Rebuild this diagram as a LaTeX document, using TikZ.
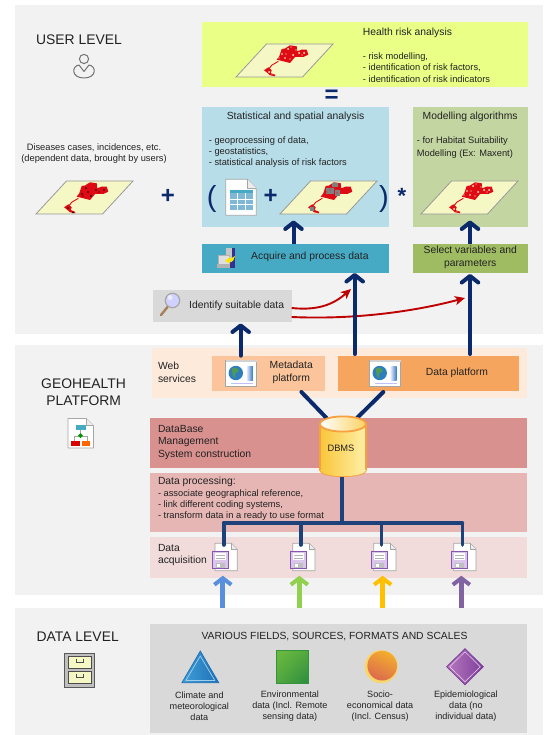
\documentclass[tikz,border=0pt]{standalone}
\usepackage{fontspec}
\setmainfont{Liberation Sans}
\usetikzlibrary{arrows.meta,shapes.geometric,calc,shadings}
\definecolor{navy}{HTML}{0A2A6B}
\definecolor{navyb}{HTML}{1C4279}
\definecolor{panel}{HTML}{F2F2F2}
\definecolor{ink}{HTML}{222222}
\definecolor{iconline}{HTML}{A6A6A6}
\definecolor{cyellow}{HTML}{E9FF85}
\definecolor{cblue}{HTML}{B7DDE8}
\definecolor{cgreen}{HTML}{C3D5A0}
\definecolor{cacq}{HTML}{46AAC4}
\definecolor{csel}{HTML}{A0BC62}
\definecolor{cgrey}{HTML}{D9D9D9}
\definecolor{cweb}{HTML}{FDEADA}
\definecolor{cmeta}{HTML}{FBC49A}
\definecolor{cdata}{HTML}{F6A55F}
\definecolor{cdb}{HTML}{D8918E}
\definecolor{cproc}{HTML}{E5B6B3}
\definecolor{cacqu}{HTML}{F1DCDB}
\definecolor{mapy}{HTML}{F5F7C4}
\definecolor{floppy}{HTML}{8A55B0}
\definecolor{floppyl}{HTML}{D9C6EA}
\definecolor{mapred}{HTML}{E00A14}
\definecolor{globe}{HTML}{2E7DBE}
\definecolor{land}{HTML}{4F9A55}
\definecolor{ctab}{HTML}{7FB8D6}
\definecolor{aone}{HTML}{5A8FDC}
\definecolor{atwo}{HTML}{92D050}
\definecolor{athree}{HTML}{FFC000}
\definecolor{afour}{HTML}{8064A2}
\definecolor{triA}{HTML}{3F9FD8}
\definecolor{triB}{HTML}{1F6FB5}
\definecolor{sqA}{HTML}{6DBB3F}
\definecolor{sqB}{HTML}{2B8C3F}
\definecolor{cirA}{HTML}{F3AE2D}
\definecolor{cirB}{HTML}{DC6A4E}
\definecolor{cirC}{HTML}{F7D66A}
\definecolor{diaA}{HTML}{B678BE}
\definecolor{diaB}{HTML}{7F3F9B}
\definecolor{dbA}{HTML}{F9C63A}
\definecolor{dbB}{HTML}{FFF0A8}
\definecolor{dbL}{HTML}{F6A040}
\tikzset{
  x=1pt,y=-1pt,
  boxn/.style={inner sep=0,outer sep=0,anchor=north west,draw=none},
  lab/.style={inner sep=0,text=ink,font=\fontsize{10.35}{13}\selectfont,align=left},
  labc/.style={lab,align=center},
  listf/.style={lab,anchor=west,font=\fontsize{9.3}{11.4}\selectfont},
  title/.style={inner sep=0,text=ink,font=\fontsize{13.9}{17}\selectfont,align=center},
  small/.style={inner sep=0,text=ink,font=\fontsize{9.1}{11}\selectfont,align=center},
  sym/.style={inner sep=0,text=navy,font=\bfseries},
  navyarrow/.style={draw=navy,line width=4pt,line cap=round,-{Straight Barb[length=6.5pt,width=16.5pt,line width=4pt,round]}},
  navyline/.style={draw=navy,line width=4pt,line cap=round},
  busline/.style={draw=navyb,line width=3.6pt,line cap=round,line join=round},
  redarrow/.style={draw=red!75!black,line width=1.9pt,-{Stealth[length=10pt,width=9pt,inset=2.5pt]}},
  colarrow/.style={line width=4.8pt,-{Straight Barb[length=6.5pt,width=17pt,line width=4pt]}},
}
\newcommand\bx[6]{\node[boxn,fill=#6,minimum width={(#4-#2)*1pt},minimum height={(#5-#3)*1pt}] (#1) at (#2,#3) {};}
\newcommand\mapsheet[5]{%
  \begin{scope}[shift={(#2,#3)}]
    \node[inner sep=0] (#1) at (48,-16) {};
    \draw[fill=mapy,draw=gray!80,line width=.8pt] (0,0) -- (66.5,0) -- (97,-33) -- (30.5,-33) -- cycle;
    \fill[mapred] (43.3,-20.7) -- (45.7,-28) -- (49,-28.5) -- (54,-31.7) -- (60.7,-30.7) -- (61.3,-25.7) -- (66,-27.5) -- (70.7,-27.3) -- (72.3,-22.3) -- (67.3,-20) -- (59,-20) -- (54,-14) -- (47.3,-15.7) -- (40.7,-17.3) -- cycle;
    \draw[mapred,line width=.9pt] (42.3,-15.7) -- (35.7,-11.7) -- (32.3,-7.3);
    \fill[mapred] (28,-6.7) -- (32.3,-9.7) -- (35.7,-6.7) -- (34.7,-4) -- (39,-2.3) -- (39,-.7) -- (34,-1.7) -- (30.7,-4.7) -- cycle;
    #5{#4}
  \end{scope}}
\newcommand\speck[1]{\fill[#1] (46,-20) circle (.8) (52,-22) circle (.8) (60,-24) circle (.8) (68,-24) circle (.8) (55,-18) circle (.8) (32,-6) circle (.8) (50,-26) circle (.8) (63,-22) circle (.6) (47,-18) circle (.6) (37,-1.5) circle (.8);}
\newcommand\holes[1]{\fill[#1] (46,-23) circle (.9) (52,-28) circle (1) (57,-22) circle (1) (63,-24) circle (1) (68,-24) circle (1) (49,-19) circle (.8) (33,-5) circle (1) (36,-3) circle (.6) (54,-18) circle (.7) (60,-27) circle (.6) (43,-19) circle (.7) (66,-22) circle (.7) (50,-23) circle (.7) (55,-30) circle (.7);}
\newcommand\patches[1]{\fill[#1] (46,-26) rectangle (54,-20) (52,-31) rectangle (58,-27) (55,-24) rectangle (60,-18) (30,-7) rectangle (34,-3);\fill[mapred] (50,-24) circle (.7) (47,-22) circle (.7) (57,-21) circle (.7);}
\newcommand\docshape[5]{\draw[fill=white,draw=iconline,line width=.8pt,line join=round] (#1,#2) -- ({#1+#3-#5},#2) -- ({#1+#3},{#2+#5}) -- ({#1+#3},{#2+#4}) -- (#1,{#2+#4}) -- cycle;
  \draw[fill=gray!15,draw=iconline,line width=.5pt] ({#1+#3-#5},#2) -- ({#1+#3-#5},{#2+#5}) -- ({#1+#3},{#2+#5});}
\newcommand\browser[2]{\begin{scope}[shift={(#1,#2)}]
  \draw[fill=white,draw=gray!70,line width=.7pt] (0,0) rectangle (31,26);
  \fill[gray!35] (0,0) rectangle (31,2.4);
  \shade[left color=blue!10,right color=globe] (21,6) rectangle (27,20);
  \fill[globe] (10,13) circle (7.2);
  \fill[land] (6,8.5) -- (11,7.5) -- (13,11) -- (9,14) -- (10,18) -- (7,16) -- cycle;
  \draw[blue!25,line width=.7pt] (5,23) -- (27,23);
\end{scope}}
\newcommand\floppydoc[2]{\begin{scope}[shift={(#1,#2)}]
  \docshape{2.7}{0}{22.3}{27.4}{6}
  \draw[fill=floppyl,draw=floppy,line width=1pt] (0,8.4) rectangle (16.2,25);
  \fill[white] (2.5,9.5) rectangle (13.7,17);
  \draw[gray!60,line width=.5pt] (4,12) -- (12.5,12) (4,14.5) -- (12.5,14.5);
  \fill[gray!50] (3.5,19.5) rectangle (13,24.5);
  \fill[white] (5,20.5) rectangle (8,24);
\end{scope}}
\begin{document}
\begin{tikzpicture}
\useasboundingbox (0,0) rectangle (547,735);
\fill[white] (0,0) rectangle (547,735);
% level panels
\bx{userpanel}{15}{5}{543}{334}{panel}
\bx{geopanel}{15}{344.6}{543}{595}{panel}
\bx{datapanel}{15}{607.5}{543}{735}{panel}
% user level boxes
\bx{yellow}{201.7}{21.7}{527.7}{87.3}{cyellow}
\bx{blue}{201.7}{107}{389.3}{227}{cblue}
\bx{green}{412.7}{107}{527.7}{227}{cgreen}
\bx{acq}{201.7}{244}{389.3}{273}{cacq}
\bx{sel}{412.7}{244}{527.7}{273}{csel}
\bx{ident}{153}{290}{291.7}{322}{cgrey}
% geohealth boxes
\bx{web}{152}{348}{527}{397.5}{cweb}
\bx{meta}{211.5}{355.7}{324.7}{390.7}{cmeta}
\bx{dplat}{338}{355.7}{519}{390.7}{cdata}
\bx{dbband}{150}{418}{527}{467.7}{cdb}
\bx{proc}{150}{472.7}{527}{531.7}{cproc}
\bx{acqu}{150}{536.7}{527}{578}{cacqu}
\bx{fields}{150}{624}{527}{732.7}{cgrey}
% maps
\mapsheet{mapa}{36}{214}{black}{\speck}
\mapsheet{mapb}{236}{77}{mapy}{\holes}
\mapsheet{mapc}{280}{214}{gray}{\patches}
\mapsheet{mapd}{421}{214}{mapy}{\holes}
% texts: user level
\node[title] (tuser) at (79,40) {USER LEVEL};
\node[lab,labc,font=\fontsize{9.3}{11.2}\selectfont] (tdis) at (94,153.5) {Diseases cases, incidences, etc.\\(dependent data, brought by users)};
\node[lab,anchor=west] (thr) at (362.7,33) {Health risk analysis};
\node[listf] (thrl) at (362.7,67.5) {- risk modelling,\\- identification of risk factors,\\- identification of risk indicators};
\node[lab] (tsta) at (295.5,117) {Statistical and spatial analysis};
\node[listf,font=\fontsize{9.3}{11}\selectfont] (tstl) at (208.7,152) {- geoprocessing of data,\\- geostatistics,\\- statistical analysis of risk factors};
\node[lab] (tmod) at (470.2,117) {Modelling algorithms};
\node[listf,font=\fontsize{9.3}{13}\selectfont] (tmol) at (416.7,147.5) {- for Habitat Suitability\\Modelling (Ex: Maxent)};
\node[lab,anchor=west] (tacq) at (251,257) {Acquire and process data};
\node[lab,labc] (tsel) at (470.2,257.5) {Select variables and\\parameters};
\node[lab,anchor=west] (tid) at (189,305.5) {Identify suitable data};
% symbols
\node[sym,font=\bfseries\fontsize{24}{24}\selectfont] (plusa) at (168,196.5) {+};
\node[sym,font=\bfseries\fontsize{24}{24}\selectfont] (plusb) at (270.7,196) {+};
\node[sym,font=\fontsize{29}{29}\selectfont] (lpar) at (211.7,199) {(};
\node[sym,font=\fontsize{29}{29}\selectfont] (rpar) at (384,199) {)};
\node[sym,font=\bfseries\fontsize{22}{22}\selectfont] (star) at (402,196) {*};
\node[sym,font=\bfseries\fontsize{24}{24}\selectfont] (eq) at (331.7,96) {=};
% user icon
\draw[gray!90!black,line width=1pt] (84,59) circle (4.6);
\draw[gray!90!black,line width=1pt,line join=round] (79,65) .. controls (71.5,66) and (71,78) .. (84,78) .. controls (97,78) and (96.5,66) .. (89,65) -- (84,71.5) -- cycle;
% table document
\docshape{225.7}{179.3}{30.6}{36}{9}
\fill[cacq] (230,190) rectangle (252.7,193);
\fill[ctab] (230,193) rectangle (252.7,210);
\draw[white,line width=.7pt] (237.5,193) -- (237.5,210) (245,193) -- (245,210) (230,199) -- (252.7,199) (230,204.5) -- (252.7,204.5);
% acquire icon
\fill[blue!45!black!80] (226,248.3) rectangle (235,268);
\fill[gray!45] (226,248.3) rectangle (232,262);
\draw[gray!60,fill=gray!25] (218,255.5) rectangle (229,264);
\fill[gray!60] (216.7,264) rectangle (230,267.5);
\fill[yellow!90!orange] (225,261) -- (230,257) -- (230,259) -- (235,256) -- (233,261) -- (230,261) -- (230,263.5) -- cycle;
% magnifier
\draw[brown!60!gray,line width=2.4pt,line cap=round] (161,315) -- (167.5,307);
\draw[gray!70,fill=blue!18,line width=1.2pt] (172.5,300.5) circle (7.2);
\fill[white,opacity=.6] (170,297.5) circle (2.5);
% geohealth texts
\node[title] (tgeo) at (83.6,392.5) {GEOHEALTH\\PLATFORM};
\node[lab,anchor=west] (tweb) at (157.8,372.5) {Web\\services};
\node[lab,labc] (tmeta) at (291.3,372.5) {Metadata\\platform};
\node[lab] (tdat) at (457,372.5) {Data platform};
\node[lab,anchor=west,font=\fontsize{10.35}{12.5}\selectfont] (tdb) at (157.8,442.5) {DataBase\\Management\\System construction};
\node[lab,anchor=west] (tpro) at (157.8,482) {Data processing:};
\node[listf,font=\fontsize{9.3}{11}\selectfont] (tprl) at (157.8,505) {- associate geographical reference,\\- link different coding systems,\\- transform data in a ready to use format};
\node[lab,anchor=west,font=\fontsize{10.35}{12.5}\selectfont] (tdaq) at (157.8,555) {Data\\acquisition};
% flowchart doc icon
\docshape{68}{418.5}{25.4}{29.5}{7}
\fill[cacq] (75.5,425) rectangle (85.5,430);
\draw[gray!70,line width=.5pt] (80.5,430) -- (80.5,435) (74,441) -- (74,436) -- (87,436) -- (87,441);
\fill[green!60!black] (80.5,433) -- (83,435.5) -- (80.5,438) -- (78,435.5) -- cycle;
\fill[red!85!black] (71,441) rectangle (79.5,445.5);
\fill[orange!80!red] (81.5,441) rectangle (90,445.5);
% browser icons
\browser{225.8}{360}
\browser{369.7}{360}
% lower connectors
\coordinate (busl) at (223.7,523);
\coordinate (busr) at (462.4,523);
\coordinate (busm) at (341.7,523);
\coordinate (m1) at (301.4,392);
\coordinate (m2) at (326.5,418);
\coordinate (d1) at (383.3,392);
\coordinate (d2) at (357,418);
\draw[navyline] (m1) -- (m2);
\draw[navyline] (d1) -- (d2);
% dbms
\node[inner sep=0,outer sep=0,minimum width=46pt,minimum height=61pt] (dbms) at (343,446.2) {};
\draw[dbL,line width=1.8pt,fill=dbA] (343,470) ellipse (23 and 6.2);
\shade[left color=dbA,right color=dbB] (320,424) rectangle (366,470);
\shade[left color=dbA,right color=dbB] (320,470) arc (180:360:23 and -6.2) -- cycle;
\draw[dbL,line width=1.8pt] (320,424) -- (320,470) (366,424) -- (366,470);
\shade[left color=white,right color=dbA!80!white] (343,424) ellipse (23 and 7.6);
\draw[dbL,line width=1.8pt] (343,424) ellipse (23 and 7.6);
\node[lab,font=\fontsize{9.3}{10}\selectfont] (tdbms) at (341,448.7) {DBMS};
\draw[busline,line cap=butt] (dbms.south -| busm) -- (busm);
% floppy documents
\floppydoc{212.3}{543.3}
\floppydoc{290}{543.3}
\floppydoc{371}{543.3}
\floppydoc{451}{543.3}
\draw[busline] (busl) -- (busr);
\coordinate (f1) at (223.7,545);
\coordinate (f2) at (300.7,545);
\coordinate (f3) at (381.5,545);
\coordinate (f4) at (462.4,545);
\draw[busline] (f1) -- (busl);
\draw[busline] (f2) -- (f2 |- busl);
\draw[busline] (f3) -- (f3 |- busl);
\draw[busline] (f4) -- (busr);
% colored arrows
\coordinate (u1) at (222.8,575.7);
\coordinate (u2) at (299.3,575.7);
\coordinate (u3) at (382.6,575.7);
\coordinate (u4) at (461.3,575.7);
\draw[colarrow,draw=aone] (datapanel.north -| u1) -- (u1);
\draw[colarrow,draw=atwo] (datapanel.north -| u2) -- (u2);
\draw[colarrow,draw=athree] (datapanel.north -| u3) -- (u3);
\draw[colarrow,draw=afour] (datapanel.north -| u4) -- (u4);
% upper connectors
\coordinate (a1) at (293.5,220.5);
\coordinate (a2) at (470,220.5);
\coordinate (a3) at (354.7,273);
\coordinate (a4) at (470,274);
\coordinate (a5) at (240.7,323.5);
\coordinate (r1) at (351,289);
\coordinate (r2) at (465,298);
\draw[redarrow] ([yshift=-2pt]ident.east) .. controls (320,311) and (335,303) .. (r1);
\draw[redarrow] ([yshift=-11pt]ident.east) .. controls (360,320) and (420,310) .. (r2);
\draw[navyarrow,line cap=butt] (acq.north -| a1) -- (a1);
\draw[navyarrow,line cap=butt] (sel.north -| a2) -- (a2);
\draw[navyarrow] ([yshift=1.7pt]dplat.north -| a3) -- (a3);
\draw[navyarrow] ([yshift=1.7pt]dplat.north -| a4) -- (a4);
\draw[navyarrow] (meta.north -| a5) -- (a5);
% data level
\node[title] (tdata) at (77.7,636.7) {DATA LEVEL};
\draw[gray!70!black,fill=gray!50,line width=.8pt] (64.8,653) rectangle (94.8,687);
\draw[black!70,fill=mapy,line width=.7pt] (68.3,656) rectangle (91.3,668.5);
\draw[black!70,fill=mapy,line width=.7pt] (68.3,671) rectangle (91.3,683.5);
\draw[black!70,line width=.8pt] (76.3,659) -- (76.3,662) -- (83.3,662) -- (83.3,659) (76.3,674) -- (76.3,677) -- (83.3,677) -- (83.3,674);
\node[lab] (tvar) at (334.5,636.7) {VARIOUS FIELDS, SOURCES, FORMATS AND SCALES};
% data shapes
\shade[left color=triA,right color=triB] (200.3,651) -- (218.8,682.7) -- (181.9,682.7) -- cycle;
\draw[triA!50!white,line width=.7pt] (200.3,656) -- (214.8,680.5) -- (185.9,680.5) -- cycle;
\draw[triB,line width=.7pt] (200.3,651) -- (218.8,682.7) -- (181.9,682.7) -- cycle;
\shade[upper left=sqA,lower right=sqB,upper right=sqA!60!sqB,lower left=sqA!60!sqB] (276.3,650.5) rectangle (308.7,683);
\draw[sqB!85!sqA,line width=.9pt] (276.3,650.5) rectangle (308.7,683);
\fill[cirC] (381.2,666.7) circle (16.5);
\shade[left color=cirA,right color=cirB,shading angle=-25] (382.2,665.7) circle (14.8);
\shade[left color=diaA,right color=diaB] (446.7,666.7) -- (465,648.7) -- (483.3,666.7) -- (465,684.7) -- cycle;
\draw[white!70!diaA,line width=.5pt] (449.7,666.7) -- (465,651.7) -- (480.3,666.7) -- (465,681.7) -- cycle;
\draw[diaB,line width=.8pt] (446.7,666.7) -- (465,648.7) -- (483.3,666.7) -- (465,684.7) -- cycle;
\node[small] (c1) at (199.3,706) {Climate and\\meteorological\\data};
\node[small] (c2) at (289.9,706) {Environmental\\data (Incl. Remote\\sensing data)};
\node[small] (c3) at (380.1,706) {Socio-\\economical data\\(Incl. Census)};
\node[small] (c4) at (465.9,706) {Epidemiological\\data (no\\individual data)};
\end{tikzpicture}
\end{document}
